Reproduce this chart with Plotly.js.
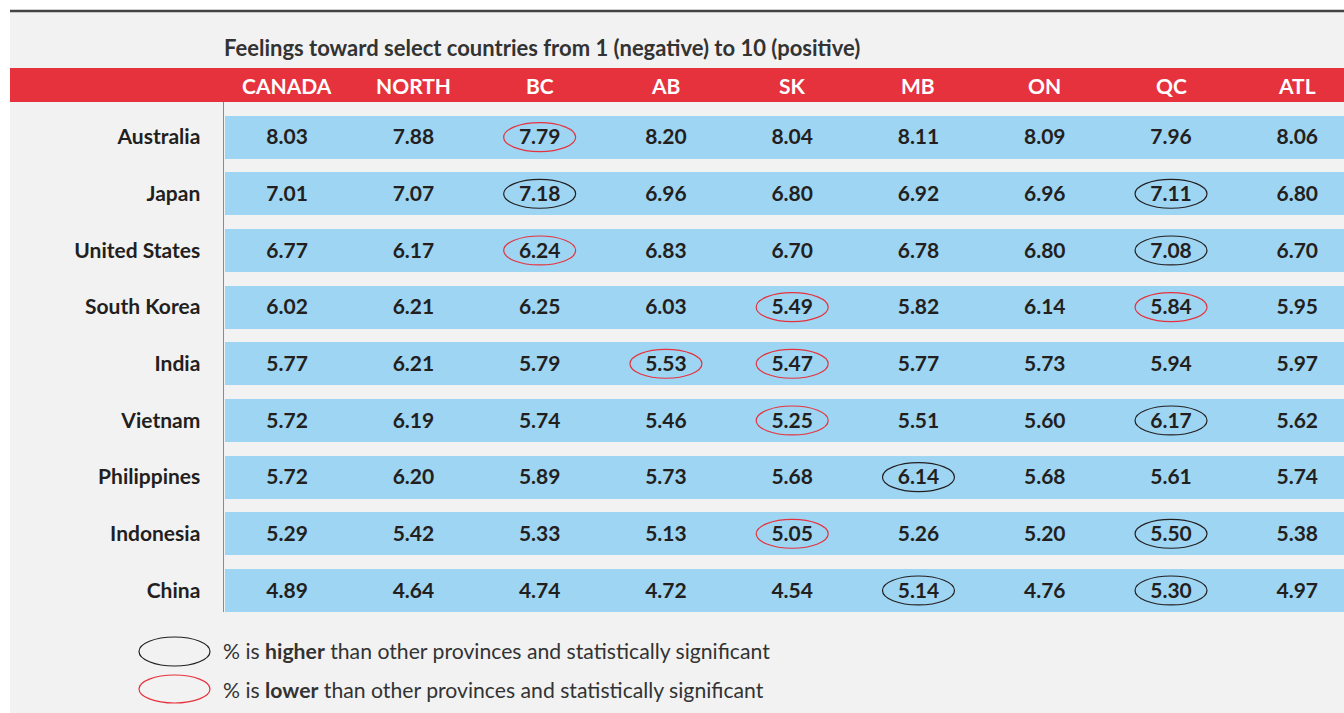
<!DOCTYPE html>
<html>
<head>
<meta charset="utf-8">
<script src="https://cdn.plot.ly/plotly-3.0.1.min.js"></script>
<style>
  html, body { margin: 0; padding: 0; background: #ffffff; }
  #chart { width: 1344px; height: 713px; }
</style>
</head>
<body>
<div id="chart"></div>
<script>
// columns and rows of the table
const regions = ["CANADA", "NORTH", "BC", "AB", "SK", "MB", "ON", "QC", "ATL"];
const countries = ["Australia", "Japan", "United States", "South Korea", "India",
                   "Vietnam", "Philippines", "Indonesia", "China"];

// scores, one array per country, in the order of regions
const australia    = [8.03, 7.88, 7.79, 8.20, 8.04, 8.11, 8.09, 7.96, 8.06];
const japan        = [7.01, 7.07, 7.18, 6.96, 6.80, 6.92, 6.96, 7.11, 6.80];
const unitedStates = [6.77, 6.17, 6.24, 6.83, 6.70, 6.78, 6.80, 7.08, 6.70];
const southKorea   = [6.02, 6.21, 6.25, 6.03, 5.49, 5.82, 6.14, 5.84, 5.95];
const india        = [5.77, 6.21, 5.79, 5.53, 5.47, 5.77, 5.73, 5.94, 5.97];
const vietnam      = [5.72, 6.19, 5.74, 5.46, 5.25, 5.51, 5.60, 6.17, 5.62];
const philippines  = [5.72, 6.20, 5.89, 5.73, 5.68, 6.14, 5.68, 5.61, 5.74];
const indonesia    = [5.29, 5.42, 5.33, 5.13, 5.05, 5.26, 5.20, 5.50, 5.38];
const china        = [4.89, 4.64, 4.74, 4.72, 4.54, 5.14, 4.76, 5.30, 4.97];
const rows = [australia, japan, unitedStates, southKorea, india, vietnam, philippines, indonesia, china];

// statistically significant cells [country, region]
const higher = [["Japan", "BC"], ["Japan", "QC"], ["United States", "QC"], ["Vietnam", "QC"],
                ["Philippines", "MB"], ["Indonesia", "QC"], ["China", "MB"], ["China", "QC"]];
const lower = [["Australia", "BC"], ["United States", "BC"], ["South Korea", "SK"], ["South Korea", "QC"],
               ["India", "AB"], ["India", "SK"], ["Vietnam", "SK"], ["Indonesia", "SK"]];

const FONT = "Lato, 'Open Sans', sans-serif";
const INK = "#231f20";
const RED = "#e6323d";
const BLUE = "#9ed5f2";
const BG = "#f2f2f2";
const FS = 21;

// helpers to place things outside the plot area, in pixels
const W = 1344, H = 713, L = 224, T = 102, B = 101;
const plotW = W - L, plotH = H - T - B;
const px = x => (x - L) / plotW;
const py = y => (H - B - y) / plotH;

// row bands
const bands = {
  type: "bar",
  orientation: "h",
  y: countries,
  x: countries.map(() => 10),
  base: -0.49,
  width: 0.754,
  marker: { color: BLUE, line: { width: 0 } },
  hoverinfo: "skip",
  showlegend: false
};

// values (nudged a hair down so the digits sit in the middle of the band)
const tx = [], ty = [], tt = [];
rows.forEach((vals, i) => {
  vals.forEach((v, j) => {
    tx.push(j);
    ty.push(i + 0.035);
    tt.push(v.toFixed(2));
  });
});
const values = {
  type: "scatter",
  mode: "text",
  x: tx,
  y: ty,
  text: tt,
  textposition: "middle center",
  textfont: { family: FONT, size: FS, color: INK, weight: "bold" },
  hoverinfo: "skip",
  showlegend: false
};

const shapes = [];
// page background panel, top rule and header band
shapes.push({ type: "rect", xref: "paper", yref: "paper", x0: px(10), x1: px(W + 5), y0: py(H + 5), y1: py(11),
  fillcolor: BG, line: { width: 0 }, layer: "below" });
shapes.push({ type: "line", xref: "paper", yref: "paper", x0: px(10), x1: px(W + 5), y0: py(11), y1: py(11),
  line: { color: "#444444", width: 2.5 } });
shapes.push({ type: "rect", xref: "paper", yref: "paper", x0: px(10), x1: px(W + 5), y0: py(102), y1: py(68),
  fillcolor: RED, line: { width: 0 } });

function ring(list, color) {
  list.forEach(([c, r]) => {
    const i = countries.indexOf(c), j = regions.indexOf(r);
    shapes.push({ type: "circle", xref: "x", yref: "y",
      x0: j - 0.285, x1: j + 0.285, y0: i - 0.255, y1: i + 0.255,
      line: { color: color, width: 1.2 } });
  });
}
ring(higher, INK);
ring(lower, RED);

// legend ellipses
shapes.push({ type: "circle", xref: "paper", yref: "paper", x0: px(139), x1: px(210), y0: py(666), y1: py(637),
  line: { color: INK, width: 1.2 } });
shapes.push({ type: "circle", xref: "paper", yref: "paper", x0: px(139), x1: px(210), y0: py(703), y1: py(675),
  line: { color: RED, width: 1.2 } });

const annotations = regions.map((r, j) => ({
  x: j, xref: "x", y: py(86), yref: "paper",
  text: r, showarrow: false, xanchor: "center", yanchor: "middle",
  font: { family: FONT, size: FS, color: "#ffffff", weight: "bold" }
}));
annotations.push({
  x: px(221), xref: "paper", y: py(651), yref: "paper", xanchor: "left", yanchor: "middle", showarrow: false,
  text: "% is <b>higher</b> than other provinces and statistically significant",
  font: { family: FONT, size: 21.2, color: "#333333" }
});
annotations.push({
  x: px(221), xref: "paper", y: py(690), yref: "paper", xanchor: "left", yanchor: "middle", showarrow: false,
  text: "% is <b>lower</b> than other provinces and statistically significant",
  font: { family: FONT, size: 21.2, color: "#333333" }
});

const layout = {
  width: W,
  height: H,
  margin: { l: L, r: 0, t: T, b: B, pad: 0 },
  paper_bgcolor: "#ffffff",
  plot_bgcolor: BG,
  font: { family: FONT, color: INK },
  title: {
    text: "<b>Feelings toward select countries from 1 (negative) to 10 (positive)</b>",
    x: 0, xref: "paper", xanchor: "left",
    y: 1 - 48 / H, yref: "container", yanchor: "middle",
    font: { family: FONT, size: 22, color: "#333333" }
  },
  xaxis: {
    type: "linear",
    range: [-0.5, 8.37],
    showgrid: false, zeroline: false, showticklabels: false, ticks: "",
    fixedrange: true
  },
  yaxis: {
    type: "linear",
    range: [8.38, -0.62],
    tickmode: "array",
    tickvals: countries.map((c, i) => i),
    ticktext: countries,
    showgrid: false, zeroline: false,
    showline: true, linecolor: "#8a8a8a", linewidth: 1.5,
    ticks: "", ticklabelstandoff: 18,
    tickfont: { family: FONT, size: FS, color: INK, weight: "bold" },
    fixedrange: true
  },
  bargap: 0,
  shapes: shapes,
  annotations: annotations,
  showlegend: false
};

// bands on a numeric axis need numeric rows
bands.y = countries.map((c, i) => i);

Plotly.newPlot("chart", [bands, values], layout, { displayModeBar: false, staticPlot: true });
</script>
</body>
</html>
